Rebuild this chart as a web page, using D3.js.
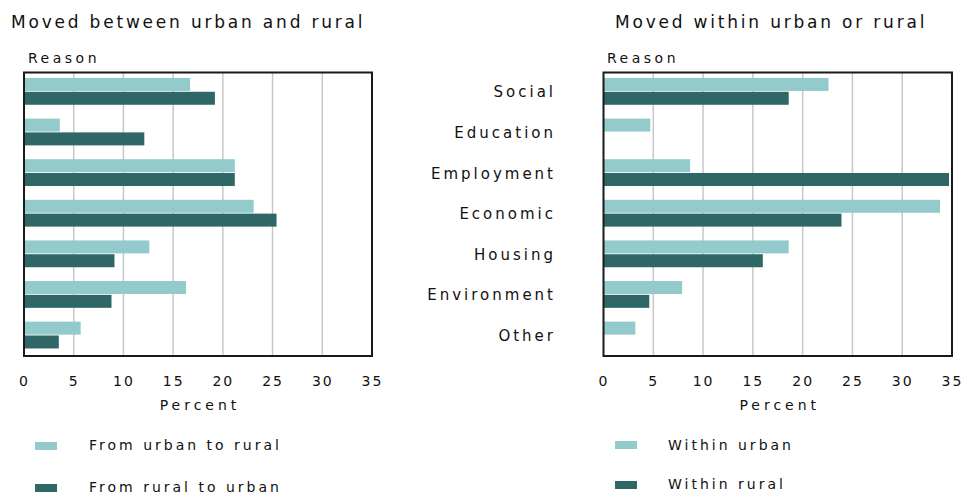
<!DOCTYPE html>
<html>
<head>
<meta charset="utf-8">
<script src="https://cdn.jsdelivr.net/npm/d3@7"></script>
<style>
  html, body { margin: 0; padding: 0; background: #ffffff; }
  svg { display: block; }
  text { font-family: "DejaVu Sans", Verdana, sans-serif; fill: #111111; }
</style>
</head>
<body>
<svg id="chart" width="964" height="495"></svg>
<script>
// ---- Data ----
const categories = ["Social", "Education", "Employment", "Economic", "Housing", "Environment", "Other"];
const xTicks = [0, 5, 10, 15, 20, 25, 30, 35];

const betweenTitle = "Moved between urban and rural";
const betweenSeries = ["From urban to rural", "From rural to urban"];
const urbanToRural = [16.7, 3.6, 21.2, 23.1, 12.6, 16.3, 5.7];
const ruralToUrban = [19.2, 12.1, 21.2, 25.4, 9.1, 8.8, 3.5];

const withinTitle = "Moved within urban or rural";
const withinSeries = ["Within urban", "Within rural"];
const withinUrban = [22.6, 4.7, 8.7, 33.8, 18.6, 7.9, 3.2];
const withinRural = [18.6, 0, 34.7, 23.9, 16.0, 4.6, 0];

const axisTitle = "Percent";
const reasonLabel = "Reason";

// ---- Styles ----
const colors = ["#93cbcc", "#2e6766"];
const svg = d3.select("#chart");

const plotTop = 72.5, plotBottom = 356;

const panels = [
  { title: betweenTitle, series: betweenSeries, values: [urbanToRural, ruralToUrban],
    x0: 24, x1: 372, titleX: 11, reasonX: 28, showCats: false,
    legend: { rectX: 35, textX: 89, rows: [{ ry: 442, ty: 450 }, { ry: 484, ty: 492 }] } },
  { title: withinTitle, series: withinSeries, values: [withinUrban, withinRural],
    x0: 603.5, x1: 952, titleX: 615, reasonX: 607, showCats: true,
    legend: { rectX: 615, textX: 668, rows: [{ ry: 441, ty: 450 }, { ry: 481, ty: 489 }] } }
];

const y = d3.scaleBand().domain(categories).range([plotTop, plotBottom])
  .paddingInner(0.34).paddingOuter(0.16).align(0.42);

panels.forEach(p => {
  const g = svg.append("g");
  const x = d3.scaleLinear().domain([0, 35]).range([p.x0, p.x1]);
  const ys = d3.scaleBand().domain(p.series).range([0, y.bandwidth()]).paddingInner(0.06);

  // title
  g.append("text").attr("x", p.titleX).attr("y", 28)
    .style("font-size", "17px").style("letter-spacing", "2.8px")
    .text(p.title);
  // Reason
  g.append("text").attr("x", p.reasonX).attr("y", 63)
    .style("font-size", "14px").style("letter-spacing", "3.5px")
    .text(reasonLabel);

  // gridlines
  g.append("g").selectAll("line")
    .data(xTicks.filter(t => t > 0 && t < 35))
    .join("line")
    .attr("x1", d => x(d)).attr("x2", d => x(d))
    .attr("y1", plotTop).attr("y2", plotBottom)
    .attr("stroke", "#c8c8c8").attr("stroke-width", 1.5);

  // bars
  const rows = [];
  categories.forEach((c, i) => {
    p.series.forEach((s, j) => rows.push({ c, s, j, v: p.values[j][i] }));
  });
  g.append("g").selectAll("rect")
    .data(rows.filter(d => d.v > 0))
    .join("rect")
    .attr("x", x(0))
    .attr("y", d => y(d.c) + ys(d.s))
    .attr("width", d => x(d.v) - x(0))
    .attr("height", ys.bandwidth())
    .attr("fill", d => colors[d.j]);

  // frame
  g.append("rect").attr("x", p.x0).attr("y", plotTop)
    .attr("width", p.x1 - p.x0).attr("height", plotBottom - plotTop)
    .attr("fill", "none").attr("stroke", "#1a1a1a").attr("stroke-width", 2);

  // x axis
  const ax = g.append("g").attr("transform", `translate(0,${plotBottom})`)
    .call(d3.axisBottom(x).tickValues(xTicks).tickSize(0).tickPadding(20));
  ax.select(".domain").remove();
  ax.selectAll("text")
    .style("font-family", "'DejaVu Sans', Verdana, sans-serif")
    .style("font-size", "14px").style("letter-spacing", "2px")
    .attr("fill", "#111111");

  g.append("text").attr("x", (p.x0 + p.x1) / 2 + 2).attr("y", 410)
    .attr("text-anchor", "middle")
    .style("font-size", "14px").style("letter-spacing", "4px")
    .text(axisTitle);

  // category labels
  if (p.showCats) {
    g.append("g").selectAll("text")
      .data(categories)
      .join("text")
      .attr("x", 556)
      .attr("y", d => y(d) + y.bandwidth() / 2 + 6)
      .attr("text-anchor", "end")
      .style("font-size", "15px").style("letter-spacing", "3px")
      .text(d => d);
  }

  // legend
  const lg = g.append("g");
  p.series.forEach((s, j) => {
    const r = p.legend.rows[j];
    lg.append("rect").attr("x", p.legend.rectX).attr("y", r.ry)
      .attr("width", 22).attr("height", 8).attr("fill", colors[j]);
    lg.append("text").attr("x", p.legend.textX).attr("y", r.ty)
      .style("font-size", "14px").style("letter-spacing", "3px")
      .text(s);
  });
});
</script>
</body>
</html>
